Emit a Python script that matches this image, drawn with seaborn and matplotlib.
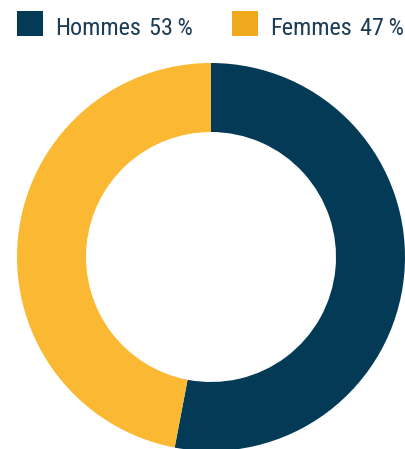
import matplotlib
matplotlib.use("Agg")
import matplotlib.pyplot as plt
from matplotlib.patches import Rectangle
import seaborn as sns

labels = ["Hommes", "Femmes"]
shares = [53, 47]
wedge_colors = ["#033A56", "#FBB832"]
legend_colors = ["#033A56", "#F0A81C"]
text_color = "#1C3D55"

sns.set_theme(style="white")
plt.rcParams["font.family"] = ["Roboto Condensed", "Roboto", "DejaVu Sans"]

W, H = 406, 449
fig = plt.figure(figsize=(W / 100, H / 100), dpi=100)

# donut: Hommes runs clockwise from 12 o'clock
ax = fig.add_axes([17 / W, -2 / H, 388 / W, 388 / H])
ax.pie(shares, colors=wedge_colors, startangle=90, counterclock=False,
       wedgeprops=dict(width=69 / 194, linewidth=0), radius=1)
ax.set_xlim(-1, 1)
ax.set_ylim(-1, 1)
ax.set_aspect("equal")
ax.axis("off")

# legend row along the top: swatch, name, share
box_x = [17, 232]
name_x = [55, 270]
value_right = [193, 404]
for bx, nx, vr, lab, val, col in zip(box_x, name_x, value_right, labels, shares, legend_colors):
    fig.patches.append(Rectangle((bx / W, 1 - 36 / H), 26 / W, 25 / H,
                                 transform=fig.transFigure, facecolor=col, edgecolor="none"))
    fig.text(nx / W, 1 - 35 / H, lab, fontsize=17.5, color=text_color,
             va="baseline", ha="left")
    fig.text(vr / W, 1 - 35 / H, f"{val}\u2009%", fontsize=17.5, color=text_color,
             va="baseline", ha="right")

fig.savefig("out.png", dpi=100)
